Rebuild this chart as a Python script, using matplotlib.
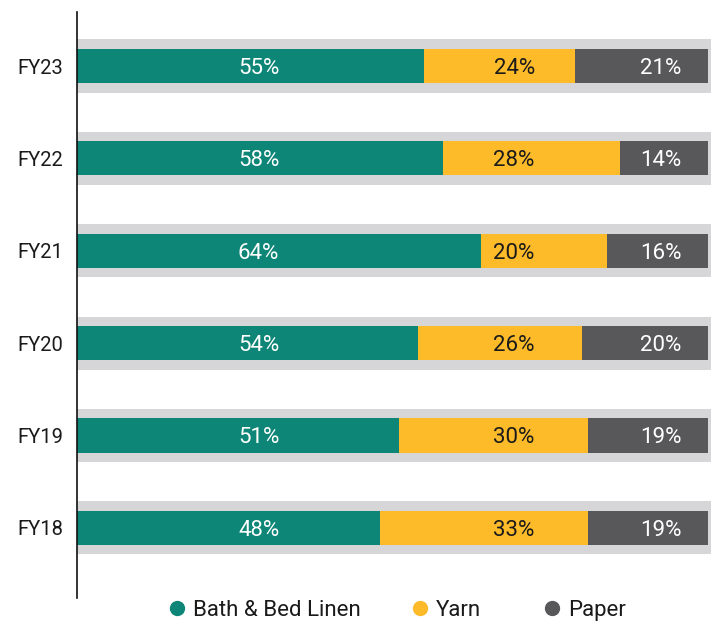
import matplotlib.pyplot as plt
from matplotlib.lines import Line2D

plt.rcParams['font.family'] = ['Roboto', 'DejaVu Sans']

# Data
years = ['FY18', 'FY19', 'FY20', 'FY21', 'FY22', 'FY23']
bath = [48, 51, 54, 64, 58, 55]
yarn = [33, 30, 26, 20, 28, 24]
paper = [19, 19, 20, 16, 14, 21]
series_names = ['Bath & Bed Linen', 'Yarn', 'Paper']

c_bath = '#0E8677'
c_yarn = '#FDBB2A'
c_paper = '#58585A'
c_bg = '#D6D6D8'

W, H = 711, 621
fig = plt.figure(figsize=(W / 100, H / 100), dpi=100)
ax = fig.add_axes([77 / W, 23 / H, 634 / W, 586 / H])

y = list(range(len(years)))

# grey background strips
ax.barh(y, [101] * len(years), height=0.575, color=c_bg, zorder=1)

left2 = [b for b in bath]
left3 = [b + yr for b, yr in zip(bath, yarn)]
ax.barh(y, bath, height=0.37, color=c_bath, zorder=2)
ax.barh(y, yarn, left=left2, height=0.37, color=c_yarn, zorder=2)
ax.barh(y, paper, left=left3, height=0.37, color=c_paper, zorder=2)

# value labels at fixed columns
for i in y:
    ax.text(28.8, i, f'{bath[i]}%', color='white', fontsize=16,
            ha='center', va='center_baseline', zorder=3)
    ax.text(69.3, i, f'{yarn[i]}%', color='#1a1a1a', fontsize=16,
            ha='center', va='center_baseline', zorder=3)
    ax.text(92.5, i, f'{paper[i]}%', color='white', fontsize=16,
            ha='center', va='center_baseline', zorder=3)

ax.set_xlim(0, 100.5)
ax.set_ylim(-0.76, 5.585)
ax.set_yticks(y)
ax.set_yticklabels(years, fontsize=14.5, color='#1a1a1a')
ax.tick_params(axis='y', length=0, pad=10)
ax.set_xticks([])
for s in ['top', 'right', 'bottom']:
    ax.spines[s].set_visible(False)
ax.spines['left'].set_linewidth(1.2)
ax.spines['left'].set_color('#111111')

# legend, placed by hand
leg_y = 1 - 608 / H
marker_x = [177, 420, 552]
for name, c, mx in zip(series_names, [c_bath, c_yarn, c_paper], marker_x):
    fig.add_artist(Line2D([mx / W], [leg_y], marker='o', linestyle='none',
                          markersize=10, markerfacecolor=c,
                          markeredgecolor=c, transform=fig.transFigure))
    fig.text((mx + 16) / W, leg_y, name, fontsize=16, color='#1a1a1a',
             ha='left', va='center_baseline')

plt.savefig('out.png', dpi=100)
plt.close()
